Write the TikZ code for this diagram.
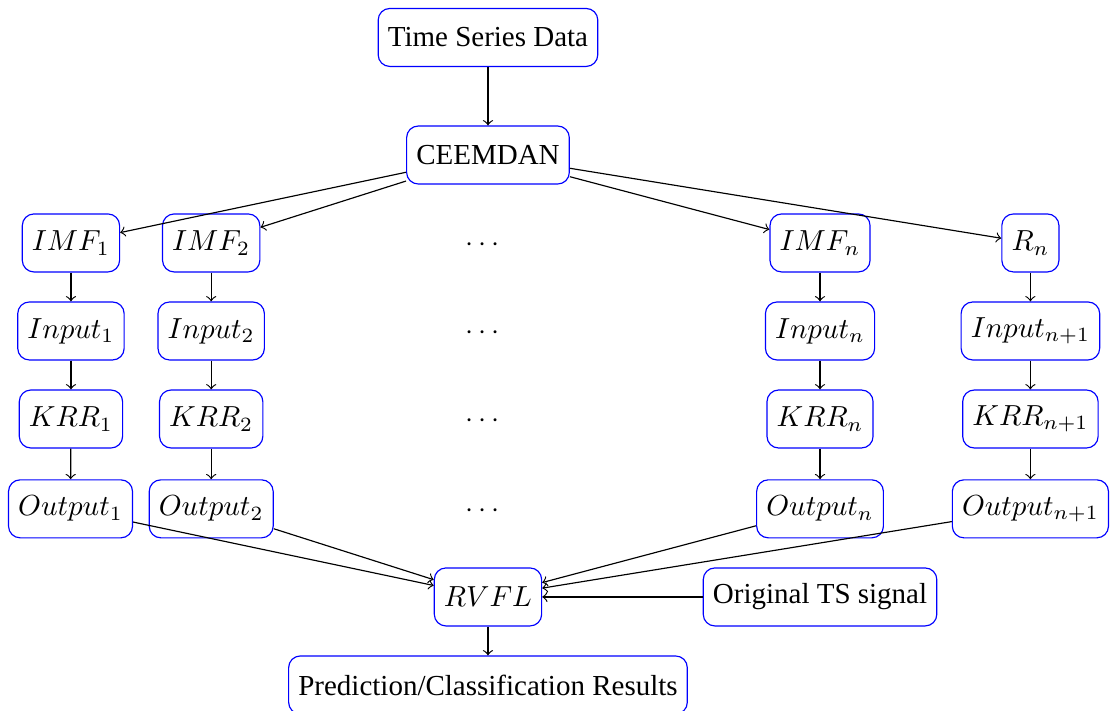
\documentclass[tikz,border=0pt]{standalone}
\usepackage{fontspec}
\setmainfont{Liberation Serif}
\usepackage{amsmath}
\usepackage{amssymb}
\tikzset{
 blk/.style={draw=blue,rounded corners,minimum height=20pt},
}

\begin{document}
\begin{tikzpicture}
 \useasboundingbox (0,0) rectangle (13.455,8.618); %描画範囲

 \node[blk] (ts) at (5.915,8.164) {Time Series Data}; %入力データ
 \node[blk] (ceem) at (5.915,6.739) {CEEMDAN}; %分解

 \node[blk] (imfa) at (0.86,5.673) {$IMF_1$};
 \node[blk] (imfb) at (2.56,5.673) {$IMF_2$};
 \node (dimf) at (5.88,5.648) {$\cdots$};
 \node[blk] (imfn) at (9.94,5.673) {$IMF_n$};
 \node[blk] (rn) at (12.49,5.673) {$R_n$};

 \node[blk] (ina) at (0.86,4.606) {$Input_1$};
 \node[blk] (inb) at (2.56,4.606) {$Input_2$};
 \node (din) at (5.88,4.581) {$\cdots$};
 \node[blk] (inn) at (9.94,4.606) {$Input_n$};
 \node[blk] (inr) at (12.49,4.606) {$Input_{n+1}$};

 \node[blk] (krra) at (0.86,3.539) {$KRR_1$};
 \node[blk] (krrb) at (2.56,3.539) {$KRR_2$};
 \node (dkrr) at (5.88,3.514) {$\cdots$};
 \node[blk] (krrn) at (9.94,3.539) {$KRR_n$};
 \node[blk] (krrr) at (12.49,3.539) {$KRR_{n+1}$};

 \node[blk] (outa) at (0.855,2.45) {$Output_1$};
 \node[blk] (outb) at (2.56,2.45) {$Output_2$};
 \node (dout) at (5.88,2.425) {$\cdots$};
 \node[blk] (outn) at (9.94,2.45) {$Output_n$};
 \node[blk] (outr) at (12.49,2.45) {$Output_{n+1}$};

 \node[blk] (rvfl) at (5.915,1.382) {$RVFL$}; %統合
 \node[blk] (orig) at (9.94,1.382) {Original TS signal};
 \node[blk] (res) at (5.915,0.315) {Prediction/Classification Results}; %結果

 \draw[->] (ts)--(ceem);
 \draw[->] (ceem)--(imfa);
 \draw[->] (ceem)--(imfb);
 \draw[->] (ceem)--(imfn);
 \draw[->] (ceem)--(rn);

 \draw[->] (imfa)--(ina);
 \draw[->] (imfb)--(inb);
 \draw[->] (imfn)--(inn);
 \draw[->] (rn)--(inr);

 \draw[->] (ina)--(krra);
 \draw[->] (inb)--(krrb);
 \draw[->] (inn)--(krrn);
 \draw[->] (inr)--(krrr);

 \draw[->] (krra)--(outa);
 \draw[->] (krrb)--(outb);
 \draw[->] (krrn)--(outn);
 \draw[->] (krrr)--(outr);

 \draw[->] (outa)--(rvfl);
 \draw[->] (outb)--(rvfl);
 \draw[->] (outn)--(rvfl);
 \draw[->] (outr)--(rvfl);
 \draw[->] (orig)--(rvfl);
 \draw[->] (rvfl)--(res);
\end{tikzpicture}
\end{document}
